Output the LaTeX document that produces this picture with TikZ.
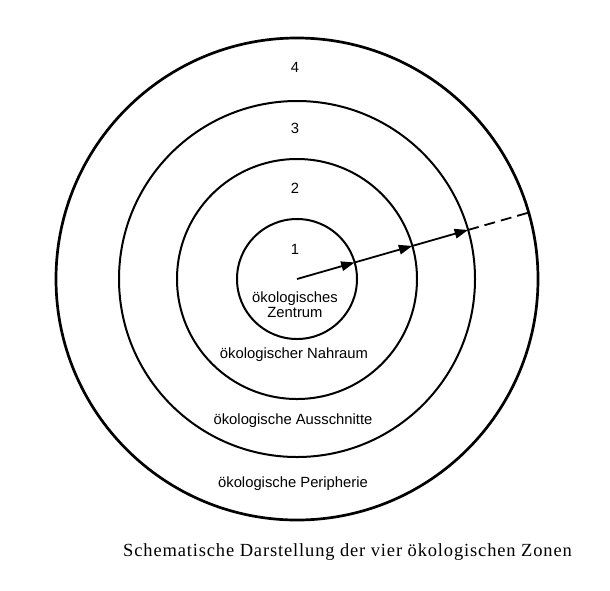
\documentclass[tikz,border=0pt]{standalone}
\usepackage{fontspec}
\setmainfont{Liberation Serif}
\setsansfont{Liberation Sans}
\newfontfamily\capfont[LetterSpace=4.6]{Liberation Serif}
\usetikzlibrary{arrows.meta}
\begin{document}
\begin{tikzpicture}[x=1pt,y=-1pt,
  ring/.style={draw, circle, inner sep=0pt, outer sep=0pt, line width=2pt},
  lbl/.style={font=\sffamily\fontsize{14.8}{16}\selectfont, anchor=base, inner sep=0pt},
  arr/.style={line width=1.8pt, -{Triangle[length=13.5pt,width=9.5pt]}},
  dash line/.style={line width=1.8pt, dash pattern=on 11pt off 6pt},
  caption/.style={font=\capfont\fontsize{18.5}{20}\selectfont, anchor=base, inner sep=0pt}
]
\useasboundingbox (0,0) rectangle (610,590);
\coordinate (c) at (297,279);
\node[ring, minimum size=120pt] (z1) at (c) {};
\node[ring, minimum size=240pt] (z2) at (c) {};
\node[ring, minimum size=356pt] (z3) at (c) {};
\node[ring, minimum size=482pt, line width=2.7pt] (z4) at (c) {};

\node[lbl] (n4) at (295,72) {4};
\node[lbl] (n3) at (295,133) {3};
\node[lbl] (n2) at (295,193) {2};
\node[lbl] (n1) at (295,254) {1};

\node[lbl] (t1a) at (295,302) {ökologisches};
\node[lbl] (t1b) at (295,317) {Zentrum};
\node[lbl] (t2) at (294,358) {ökologischer Nahraum};
\node[lbl] (t3) at (293,424) {ökologische Ausschnitte};
\node[lbl] (t4) at (293,487) {ökologische Peripherie};

\draw[arr] (c) -- (z1.16.2);
\draw[arr] (z1.16.2) -- (z2.16.2);
\draw[arr] (z2.16.2) -- (z3.16.2);
\draw[dash line] (z3.16.2) -- (z4.16.2);

\node[caption] (cap) at (347.5,556) {Schematische Darstellung der vier ökologischen Zonen};
\end{tikzpicture}
\end{document}
